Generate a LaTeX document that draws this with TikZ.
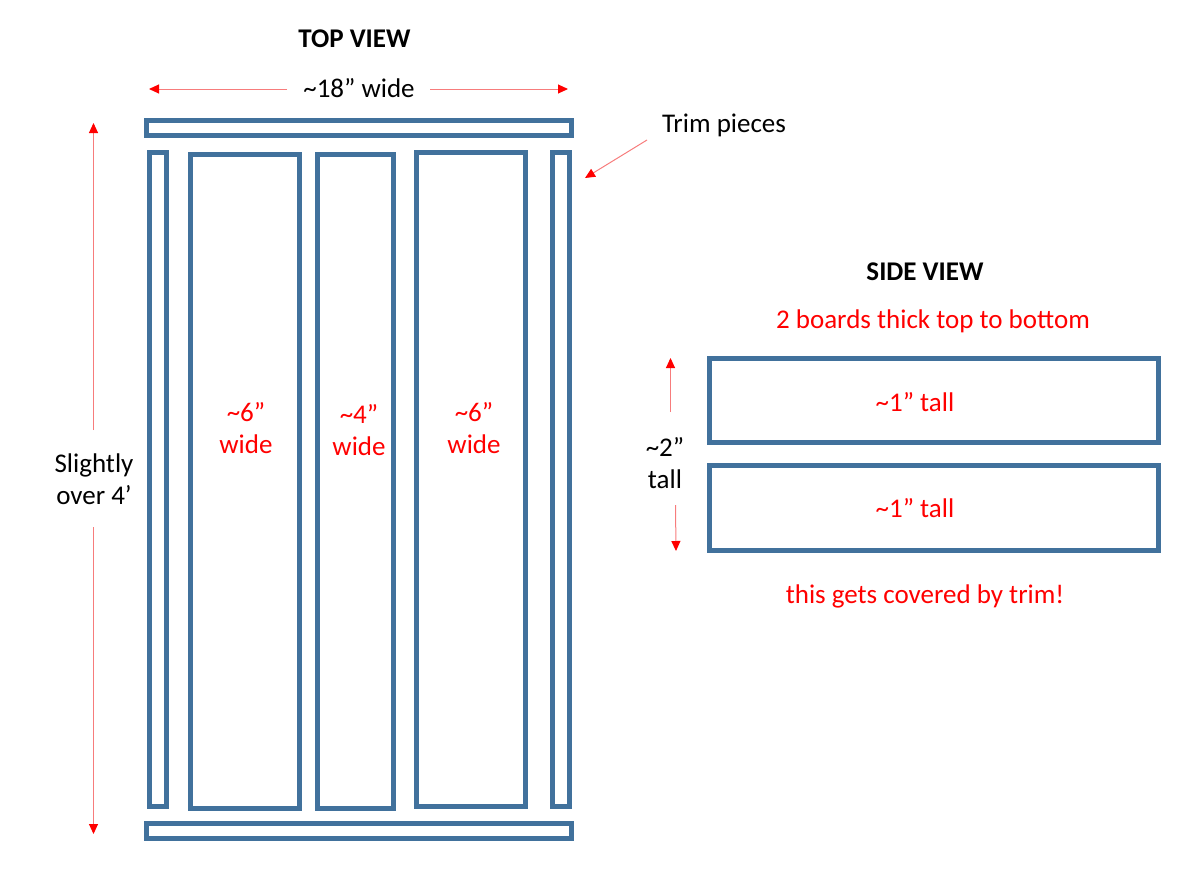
\documentclass[tikz,border=0pt]{standalone}
\usepackage{fontspec}
\setmainfont{Carlito}
\usetikzlibrary{arrows.meta}
\definecolor{boardblue}{HTML}{41719C}
\definecolor{arrowred}{HTML}{F01010}
\newcommand{\tld}{\char`\~}
\tikzset{
  x=1pt,y=-1pt,
  board/.style={draw=boardblue,line width=4.6pt,fill=white,miter limit=10},
  blk/.style={font=\fontsize{27}{32}\selectfont,text=black,inner sep=0pt,align=center},
  head/.style={font=\fontsize{27}{32}\selectfont\bfseries,text=black,inner sep=0pt,align=center},
  redtxt/.style={font=\fontsize{27}{32}\selectfont,text=red,inner sep=0pt,align=center},
  dim/.style={draw=arrowred!55,line width=1pt,-{Triangle[length=10pt,width=9pt,color=red]}}
}
\begin{document}
\begin{tikzpicture}
\useasboundingbox (0,0) rectangle (1200,873);
% boards
\draw[board] (146.5,120.5) rectangle (571.5,135.5);
\draw[board] (149.5,152.5) rectangle (166.5,806.5);
\draw[board] (190.5,154.5) rectangle (299.5,808.5);
\draw[board] (317.5,154.5) rectangle (393.5,808.5);
\draw[board] (416.5,152.5) rectangle (525.5,806.5);
\draw[board] (552.5,152.5) rectangle (569.5,806.5);
\draw[board] (146.5,823.5) rectangle (571.5,838.5);
\draw[board] (709.5,358.5) rectangle (1158.5,442.5);
\draw[board] (709.5,465.5) rectangle (1158.5,550.5);
% labels
\node[head] (top) at (354.5,38.5) {TOP VIEW};
\node[blk] (w18) at (359,88) {\tld18” wide};
\node[blk] (trim) at (724,125.5) {Trim pieces};
\node[blk] (slight) at (94,479) {Slightly\\over 4’};
\node[redtxt] (a) at (246,428) {\tld6”\\wide};
\node[redtxt] (b) at (359,430) {\tld4”\\wide};
\node[redtxt] (c) at (474,428) {\tld6”\\wide};
\node[head] (side) at (925,272) {SIDE VIEW};
\node[redtxt] (two) at (933,321.5) {2 boards thick top to bottom};
\node[redtxt] (one) at (915,402) {\tld1” tall};
\node[redtxt] (oneb) at (915,508) {\tld1” tall};
\node[redtxt] (cov) at (925,596.5) {this gets covered by trim!};
\node[blk] (two2) at (665,463) {\tld2”\\tall};
% arrow ends
\coordinate (w1) at (287,89); \coordinate (w1e) at (149,89);
\coordinate (w2) at (430,89); \coordinate (w2e) at (568,89);
\coordinate (h1) at (93.5,430); \coordinate (h1e) at (93.5,123);
\coordinate (h2) at (93.5,527); \coordinate (h2e) at (93.5,834);
\coordinate (t1) at (647,140); \coordinate (t1e) at (585,178);
\coordinate (s1) at (670.5,412); \coordinate (s1e) at (670.5,358);
\coordinate (s2) at (675.5,505); \coordinate (s2e) at (676,551);
\draw[dim] (w1) -- (w1e);
\draw[dim] (w2) -- (w2e);
\draw[dim] (h1) -- (h1e);
\draw[dim] (h2) -- (h2e);
\draw[dim] (t1) -- (t1e);
\draw[dim] (s1) -- (s1e);
\draw[dim] (s2) -- (s2e);
\end{tikzpicture}
\end{document}
